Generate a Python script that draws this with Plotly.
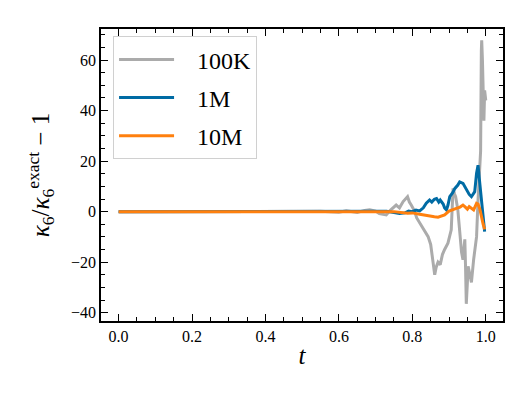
import plotly.graph_objects as go

# kappa_6 relative error vs t for three sample sizes
t_100k = [0.0, 0.1, 0.2, 0.3, 0.4, 0.5, 0.55, 0.6, 0.62, 0.65, 0.67, 0.684, 0.70, 0.71, 0.729,
          0.74, 0.756, 0.765, 0.775, 0.787, 0.792, 0.797, 0.805, 0.812, 0.820, 0.83, 0.843,
          0.85, 0.856, 0.861, 0.865, 0.870, 0.876, 0.882, 0.888, 0.897, 0.906, 0.909, 0.911,
          0.915, 0.918, 0.924, 0.929, 0.934, 0.938, 0.943, 0.945, 0.947, 0.950, 0.952, 0.957,
          0.961, 0.967, 0.972, 0.975, 0.979, 0.982, 0.984, 0.986, 0.988, 0.989, 0.991, 0.993,
          0.995, 0.997, 1.0]
y_100k = [0.0, 0.0, 0.0, 0.0, 0.0, 0.0, 0.1, -0.2, 0.3, -0.3, 0.5, 0.7, 0.2, -0.8, -1.3,
          0.5, 2.6, 1.5, 4.0, 5.9, 3.8, 2.6, 0.5, -2.5, -4.5, -6.5, -9.9,
          -13.0, -19.0, -25.0, -22.0, -20.0, -21.0, -17.0, -15.0, -12.5, -7.2, 2.0, 9.2,
          7.0, 5.9, 0.7, -8.0, -16.0, -19.0, -11.0, -22.0, -36.5, -28.0, -21.7, -25.0,
          -28.0, -19.0, -14.0, -9.9, 4.6, 12.0, 16.5, 24.0, 63.8, 67.8, 60.0, 48.0,
          36.0, 48.0, 44.0]

t_1m = [0.0, 0.2, 0.4, 0.6, 0.7, 0.73, 0.75, 0.765, 0.78, 0.79, 0.80, 0.81, 0.82, 0.83, 0.838,
        0.847, 0.853, 0.86, 0.866, 0.872, 0.876, 0.884, 0.888, 0.893, 0.897, 0.902, 0.910,
        0.916, 0.924, 0.929, 0.938, 0.947, 0.955, 0.961, 0.966, 0.970, 0.975, 0.979, 0.982,
        0.988, 0.993, 0.997]
y_1m = [0.0, 0.0, 0.0, 0.0, 0.0, 0.1, -0.4, -0.7, -0.5, 0.2, 0.0, 0.6, 0.3, 1.5, 3.3,
        4.6, 3.8, 4.9, 5.2, 3.8, 4.6, 3.0, 1.5, 0.7, 2.5, 5.9, 7.5,
        9.2, 10.5, 11.8, 11.2, 8.6, 6.8, 5.9, 7.0, 7.9, 15.2, 18.4, 13.8,
        5.3, -1.5, -7.9]

t_10m = [0.0, 0.2, 0.4, 0.6, 0.75, 0.787, 0.8, 0.82, 0.83, 0.85, 0.86, 0.87, 0.88, 0.888,
         0.90, 0.91, 0.92, 0.93, 0.938, 0.943, 0.95, 0.955, 0.961, 0.967, 0.975, 0.979,
         0.984, 0.988, 0.993, 0.997]
y_10m = [0.0, 0.0, 0.0, 0.0, 0.0, -0.6, -0.5, -1.0, -1.3, -1.8, -2.0, -2.2, -1.6, -1.3,
         0.2, 0.9, 1.3, 1.8, 2.6, 2.0, 1.0, 2.0, 1.5, 0.7, 3.3, 3.0,
         1.0, -2.0, -5.0, -7.0]

x_ticks = [0.0, 0.2, 0.4, 0.6, 0.8, 1.0]
y_ticks = [-40, -20, 0, 20, 40, 60]

font = "Liberation Serif"
pad = "&nbsp;&nbsp;&nbsp;"  # gap between legend line and label

fig = go.Figure()
fig.add_trace(go.Scatter(x=t_100k, y=y_100k, mode='lines', name=pad + '100K',
                         line=dict(color='#ABABAB', width=3), legendgroup='a'))
fig.add_trace(go.Scatter(x=t_1m, y=y_1m, mode='lines', name=pad + '1M',
                         line=dict(color='#006BA4', width=3), legendgroup='b'))
fig.add_trace(go.Scatter(x=t_10m, y=y_10m, mode='lines', name=pad + '10M',
                         line=dict(color='#FF800E', width=3), legendgroup='c'))

axis_style = dict(showline=True, linecolor='black', linewidth=1.6, mirror='allticks',
                  ticks='inside', ticklen=7, tickwidth=1.4, tickcolor='black',
                  showgrid=False, zeroline=False,
                  tickfont=dict(family=font, size=16, color='black'))

fig.update_xaxes(range=[-0.048, 1.047], tickvals=x_ticks, ticktext=[f"{v:.1f}" for v in x_ticks],
                 minor=dict(ticks='inside', ticklen=4, tickwidth=1.2, tickcolor='black', dtick=0.05),
                 title=dict(text='<i>t</i>', font=dict(family=font, size=25, color='black'), standoff=2),
                 **axis_style)
fig.update_yaxes(range=[-43.3, 72.3], tickvals=y_ticks,
                 minor=dict(ticks='inside', ticklen=4, tickwidth=1.2, tickcolor='black', dtick=5),
                 title=dict(text='<i>κ</i><sub>6</sub>/<i>κ</i><sub>6</sub><sup>exact</sup> − 1',
                            font=dict(family=font, size=25, color='black'), standoff=14),
                 **axis_style)

# page body adds an 8px offset, so the figure is drawn 8px smaller
fig.update_layout(width=524, height=391, plot_bgcolor='white', paper_bgcolor='white',
                  margin=dict(l=93, r=29, t=21, b=78),
                  legend=dict(x=0.03, y=0.975, xanchor='left', yanchor='top',
                              bgcolor='white', bordercolor='#d0d0d0', borderwidth=1,
                              font=dict(family=font, size=24, color='black'),
                              itemwidth=55, tracegroupgap=4))

fig.write_html("out.html")
